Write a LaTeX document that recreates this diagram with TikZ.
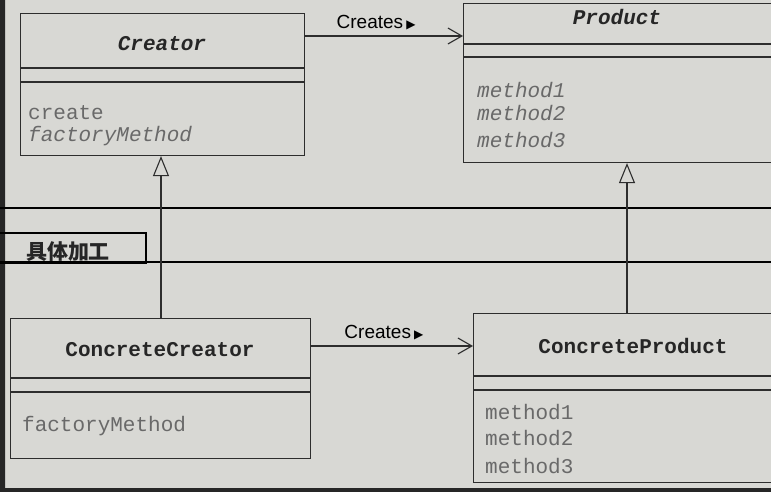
\documentclass[tikz,border=0pt]{standalone}
\usepackage{fontspec}
\setmainfont{Liberation Sans}
\setmonofont{Liberation Mono}
\newfontfamily\cjkfont{Noto Sans CJK SC}
\newfontfamily\symfont{DejaVu Sans}
\usetikzlibrary{arrows.meta}
\definecolor{paper}{RGB}{216,216,212}
\definecolor{ink}{RGB}{45,45,45}
\definecolor{memb}{RGB}{105,105,105}
\begin{document}
\begin{tikzpicture}[x=1pt,y=-1pt,
    classbox/.style={draw=ink,line width=1.1pt,anchor=north west,inner sep=0pt},
    cname/.style={font=\ttfamily\bfseries\fontsize{21}{21}\selectfont,text=black!85},
    member/.style={font=\ttfamily\fontsize{21}{21}\selectfont,text=memb,anchor=west,inner sep=0pt},
    sepline/.style={draw=ink,line width=1.1pt},
    creates/.style={draw=ink,line width=1.1pt,-{Straight Barb[length=14pt,width=16pt]}},
    extends/.style={draw=ink,line width=1.1pt,-{Triangle[open,length=20pt,width=16pt,line width=1.1pt]}},
    band/.style={black,line width=2.4pt}]
  \useasboundingbox (0,0) rectangle (771,492);
  \fill[paper] (0,0) rectangle (771,492);
  \fill[black!85] (0,0) rectangle (5,492) (0,488) rectangle (771,492);
  % partition lines
  \draw[band] (0,208) -- (771,208);
  \draw[band] (0,262) -- (771,262);
  \node[draw=black,line width=1.6pt,anchor=north west,minimum width=147pt,minimum height=30pt,inner sep=0pt] (tab) at (-2,232) {};
  \node[font=\cjkfont\bfseries\fontsize{21}{21}\selectfont,text=black!85] (tablbl) at (68,252) {具体加工};
  % Creator
  \node[classbox,minimum width=284pt,minimum height=142pt] (creator) at (20,13) {};
  \draw[sepline] (creator.west |- 0,68) -- (creator.east |- 0,68) (creator.west |- 0,82) -- (creator.east |- 0,82);
  \node[cname,font=\ttfamily\bfseries\itshape\fontsize{21}{21}\selectfont] (creatorname) at (162,44) {Creator};
  \node[member] (create) at (28,113) {create};
  \node[member,font=\ttfamily\itshape\fontsize{21}{21}\selectfont] (facm) at (28,136) {factoryMethod};
  % Product
  \node[classbox,minimum width=337pt,minimum height=159pt] (product) at (463,3) {};
  \draw[sepline] (product.west |- 0,44) -- (product.east |- 0,44) (product.west |- 0,57) -- (product.east |- 0,57);
  \node[cname,font=\ttfamily\bfseries\itshape\fontsize{21}{21}\selectfont] (productname) at (617,17) {Product};
  \foreach \m/\y in {1/90,2/113,3/140}
    \node[member,font=\ttfamily\itshape\fontsize{21}{21}\selectfont] (pm\m) at (477,\y) {method\m};
  % ConcreteCreator
  \node[classbox,minimum width=300pt,minimum height=140pt] (ccreator) at (10,318) {};
  \draw[sepline] (ccreator.west |- 0,378) -- (ccreator.east |- 0,378) (ccreator.west |- 0,392) -- (ccreator.east |- 0,392);
  \node[cname] (ccreatorname) at (160,350) {ConcreteCreator};
  \node[member] (ccfacm) at (22,426) {factoryMethod};
  % ConcreteProduct
  \node[classbox,minimum width=327pt,minimum height=169pt] (cproduct) at (473,313) {};
  \draw[sepline] (cproduct.west |- 0,376) -- (cproduct.east |- 0,376) (cproduct.west |- 0,390) -- (cproduct.east |- 0,390);
  \node[cname] (cproductname) at (633,346) {ConcreteProduct};
  \foreach \m/\y in {1/412,2/438,3/466}
    \node[member] (cpm\m) at (485,\y) {method\m};
  % relations
  \draw[creates] (creator.east |- 0,36) -- node[pos=0.45,above=2pt] (topcreates) {\fontsize{19}{19}\selectfont Creates\,{\symfont\fontsize{12}{12}\selectfont ▶}} (product.west |- 0,36);
  \draw[creates] (ccreator.east |- 0,346) -- node[pos=0.45,above=2pt] (botcreates) {\fontsize{19}{19}\selectfont Creates\,{\symfont\fontsize{12}{12}\selectfont ▶}} (cproduct.west |- 0,346);
  \draw[extends] (ccreator.north -| 161,0) -- (creator.south -| 161,0);
  \draw[extends] (cproduct.north -| 627,0) -- (product.south -| 627,0);
\end{tikzpicture}
\end{document}
